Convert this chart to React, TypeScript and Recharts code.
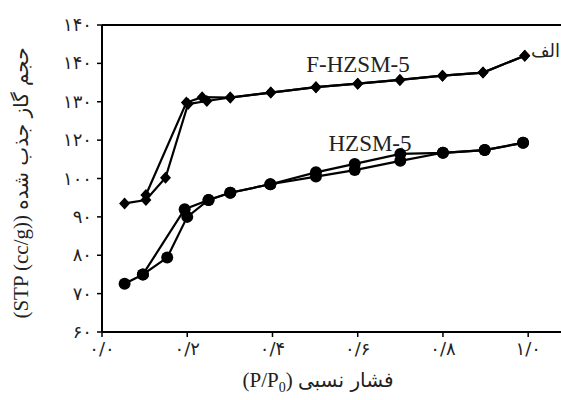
import React from 'react';
import { LineChart, Line, XAxis, YAxis, ReferenceLine } from 'recharts';

// F-HZSM-5 (diamonds), adsorption and desorption branches
const fAdsP = [0.053, 0.103, 0.149, 0.202, 0.246, 0.301, 0.396, 0.502, 0.6, 0.699, 0.799, 0.894, 0.992];
const fAdsV = [93.5, 94.4, 100.2, 119.4, 120.2, 121.1, 122.4, 123.8, 124.7, 125.7, 126.8, 127.6, 132.0];
const fDesP = [0.992, 0.894, 0.799, 0.699, 0.6, 0.502, 0.396, 0.301, 0.235, 0.198, 0.103];
const fDesV = [132.0, 127.6, 126.8, 125.7, 124.7, 123.8, 122.4, 121.1, 121.2, 119.8, 95.7];

// HZSM-5 (circles)
const hAdsP = [0.053, 0.096, 0.153, 0.2, 0.25, 0.301, 0.395, 0.502, 0.593, 0.7, 0.8, 0.898, 0.988];
const hAdsV = [72.6, 75.0, 79.4, 90.0, 94.4, 96.3, 98.5, 100.5, 102.2, 104.6, 106.7, 107.4, 109.3];
const hDesP = [0.988, 0.898, 0.8, 0.7, 0.593, 0.502, 0.395, 0.301, 0.25, 0.194, 0.096];
const hDesV = [109.3, 107.4, 106.7, 106.4, 103.8, 101.6, 98.5, 96.3, 94.4, 92.0, 75.0];

const xTicks = [0, 0.2, 0.4, 0.6, 0.8, 1.0];
const xTickLabels = ['۰/۰', '۰/۲', '۰/۴', '۰/۶', '۰/۸', '۱/۰'];
const yTicks = [60, 70, 80, 90, 100, 110, 120, 130, 140];
const yTickLabels = ['۶۰', '۷۰', '۸۰', '۹۰', '۱۰۰', '۱۲۰', '۱۳۰', '۱۴۰', '۱۴۰'];

const zip = (p: number[], v: number[]) => p.map((x, i) => ({ x, y: v[i] }));

const FONT = '"Liberation Serif", "DejaVu Sans", serif';
const FA_FONT = '"DejaVu Sans", sans-serif';

const Diamond = (props: any) => {
  const { cx, cy, index } = props;
  if (cx == null || cy == null) return null;
  return (
    <path
      key={`d-${index}`}
      d={`M${cx},${cy - 6}L${cx + 5.5},${cy}L${cx},${cy + 6}L${cx - 5.5},${cy}Z`}
      fill="#000"
    />
  );
};

const Dot = (props: any) => {
  const { cx, cy, index } = props;
  if (cx == null || cy == null) return null;
  return <circle key={`c-${index}`} cx={cx} cy={cy} r={6} fill="#000" />;
};

const XTick = (props: any) => {
  const { x, y, payload } = props;
  const i = xTicks.indexOf(payload.value);
  return (
    <text x={x} y={y + 16} textAnchor="middle" fontFamily={FA_FONT} fontSize={18} fill="#222">
      {xTickLabels[i]}
    </text>
  );
};

const YTick = (props: any) => {
  const { x, y, payload } = props;
  const i = yTicks.indexOf(payload.value);
  return (
    <text x={x - 3} y={y} dy={6} textAnchor="end" fontFamily={FA_FONT} fontSize={18} fill="#222">
      {yTickLabels[i]}
    </text>
  );
};

export default function App() {
  const line = { stroke: '#000', strokeWidth: 2.2, isAnimationActive: false, type: 'linear' as const };
  return (
    <div style={{ position: 'absolute', left: 0, top: 0, width: 561, height: 400, overflow: 'hidden', background: '#fff' }}>
      <LineChart width={561} height={400} margin={{ top: 25, right: 0, bottom: 38, left: 0 }}>
        <XAxis
          type="number"
          dataKey="x"
          domain={[0, 1.077]}
          ticks={xTicks}
          tick={<XTick />}
          tickSize={5}
          height={30}
          axisLine={{ stroke: '#000', strokeWidth: 2 }}
          tickLine={{ stroke: '#000', strokeWidth: 1.5 }}
          allowDataOverflow
        />
        <YAxis
          type="number"
          dataKey="y"
          domain={[60, 140]}
          ticks={yTicks}
          tick={<YTick />}
          tickSize={5}
          width={102}
          axisLine={{ stroke: '#000', strokeWidth: 2 }}
          tickLine={{ stroke: '#000', strokeWidth: 1.5 }}
        />
        <ReferenceLine y={140} stroke="#000" strokeWidth={2} />
        <Line data={zip(fAdsP, fAdsV)} dataKey="y" {...line} dot={<Diamond />} />
        <Line data={zip(fDesP, fDesV)} dataKey="y" {...line} dot={<Diamond />} />
        <Line data={zip(hAdsP, hAdsV)} dataKey="y" {...line} dot={<Dot />} />
        <Line data={zip(hDesP, hDesV)} dataKey="y" {...line} dot={<Dot />} />
        <text x={358} y={72} textAnchor="middle" fontFamily={FONT} fontSize={23} fill="#222">F-HZSM-5</text>
        <text x={370} y={151} textAnchor="middle" fontFamily={FONT} fontSize={23} fill="#222">HZSM-5</text>
        <text x={560} y={57} textAnchor="end" fontFamily={FA_FONT} fontSize={18} fill="#222">الف</text>
        <text x={318} y={387} textAnchor="middle" fontFamily={FONT} fontSize={21} fill="#222">
          (P/P<tspan fontSize={14} dy={5}>0</tspan><tspan dy={-5}>) </tspan>
          <tspan fontFamily={FA_FONT} fontSize={20}>فشار نسبی</tspan>
        </text>
        <text
          x={0}
          y={0}
          transform="translate(28,183) rotate(-90)"
          textAnchor="middle"
          fontFamily={FONT}
          fontSize={21}
          fill="#222"
        >
          (STP (cc/g)) <tspan fontFamily={FA_FONT} fontSize={20}>حجم گاز جذب شده</tspan>
        </text>
      </LineChart>
    </div>
  );
}
